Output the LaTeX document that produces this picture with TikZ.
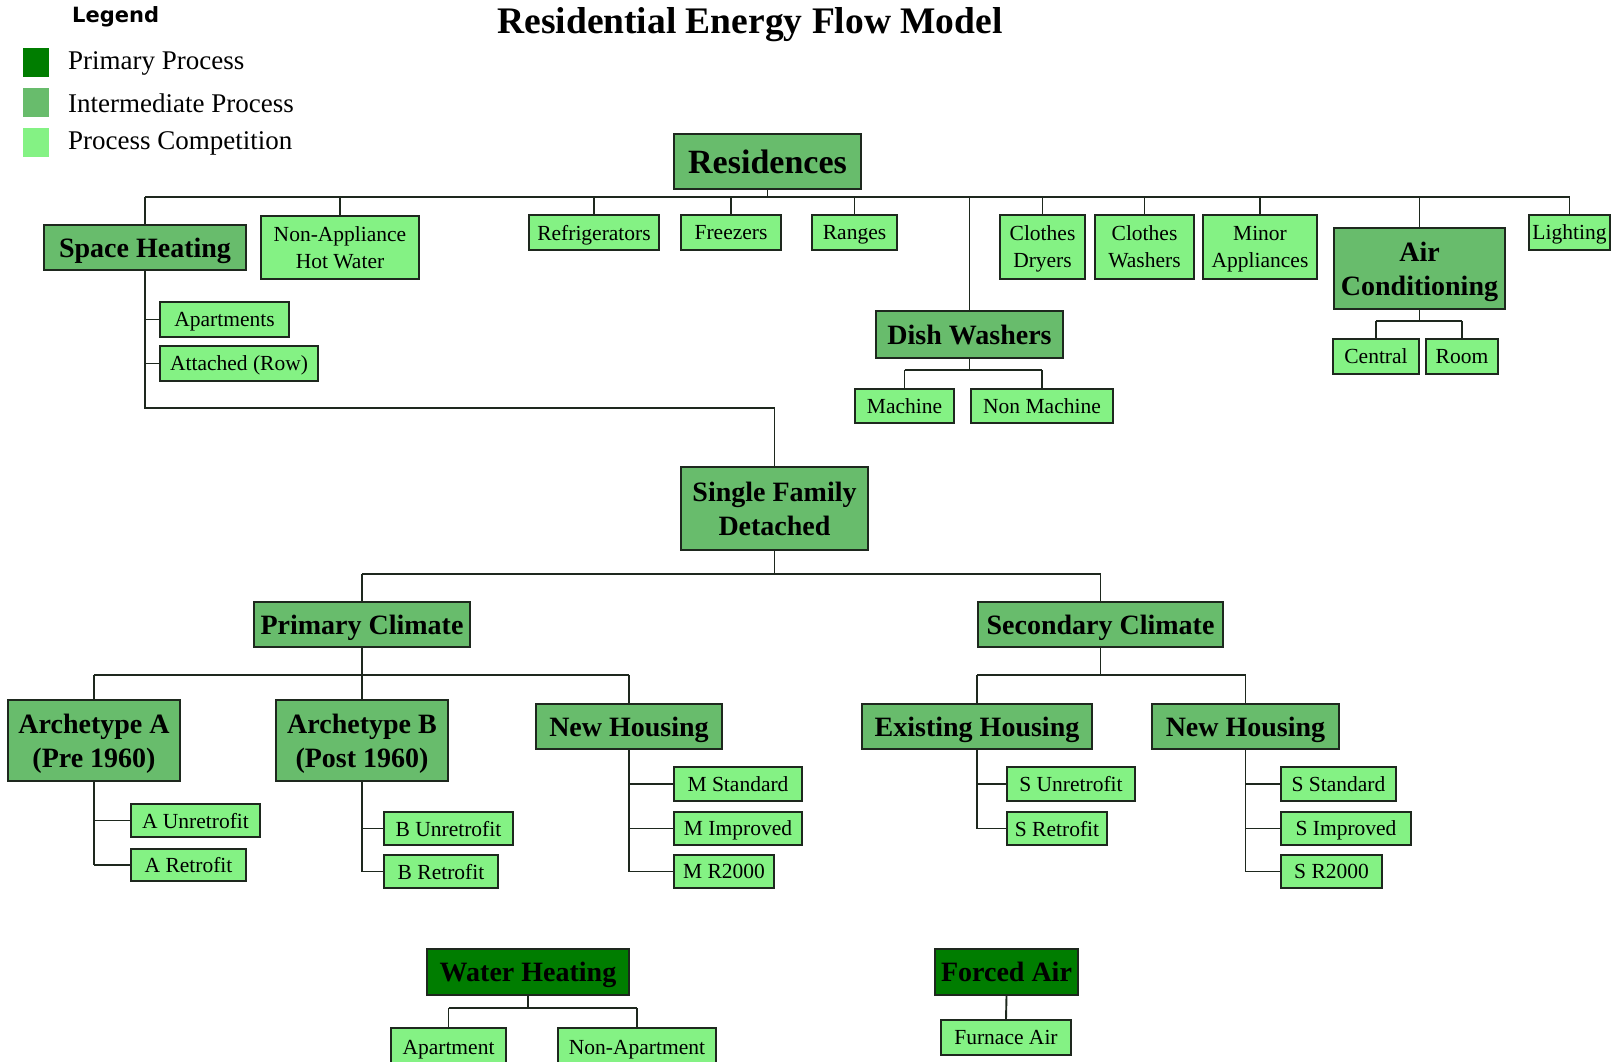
\documentclass[tikz,border=0pt]{standalone}
\usepackage{fontspec}
\setmainfont{Liberation Serif}
\newfontfamily\legfont{DejaVu Sans}
\usetikzlibrary{calc}
\definecolor{pgreen}{RGB}{0,125,0}
\definecolor{igreen}{RGB}{104,188,108}
\definecolor{cgreen}{RGB}{132,242,132}
\definecolor{edgec}{RGB}{30,40,30}
\tikzset{
 base/.style={draw=edgec, line width=1.8pt, inner sep=0pt, align=center, text=black},
 comp/.style={base, fill=cgreen, text depth=0pt, font=\fontsize{21.5}{27}\selectfont},
 inter0/.style={base, fill=igreen, font=\bfseries\fontsize{28}{34}\selectfont},
 inter/.style={inter0, text depth=0pt},
 prim/.style={base, fill=pgreen, text depth=0pt, font=\bfseries\fontsize{28}{34}\selectfont},
 conn/.style={draw=edgec, line width=1.9pt},
 legsq/.style={inner sep=0pt, minimum width=26pt, minimum height=29pt},
 legtxt/.style={anchor=west, inner sep=0pt, font=\fontsize{27}{30}\selectfont},
}
\newcommand\bx[7]{\node[#6, minimum width={(#4-#2)*1pt}, minimum height={(#5-#3)*1pt}] (#1) at ({(#2+#4)/2},{(#3+#5)/2}) {#7};}
\begin{document}
\begin{tikzpicture}[x=1pt,y=-1pt]
\useasboundingbox (0,0) rectangle (1611,1061);
\clip (0,0) rectangle (1611,1061);
\fill[white] (0,0) rectangle (1611,1061);
% title and legend
\node[font=\bfseries\fontsize{37.5}{42}\selectfont, inner sep=0pt] (title) at (750,25) {Residential Energy Flow Model};
\node[font=\legfont\bfseries\fontsize{21}{24}\selectfont, anchor=west, inner sep=0pt] (leg) at (72,17) {Legend};
\node[legsq, fill=pgreen] (sq1) at (36,62.5) {};
\node[legsq, fill=igreen] (sq2) at (36,102) {};
\node[legsq, fill=cgreen] (sq3) at (36,142.5) {};
\node[legtxt] (lt1) at (68,63) {Primary Process};
\node[legtxt] (lt2) at (68,103) {Intermediate Process};
\node[legtxt] (lt3) at (68,143) {Process Competition};
% boxes
\bx{res}{674}{134}{861}{189}{inter0, font=\bfseries\fontsize{34}{40}\selectfont}{Residences}
\bx{sh}{44}{225}{246}{270}{inter}{Space Heating}
\bx{nahw}{261}{216}{419}{279}{comp}{Non-Appliance\\Hot Water}
\bx{ref}{529}{215}{659}{250}{comp}{Refrigerators}
\bx{frz}{681}{215}{781}{250}{comp}{Freezers}
\bx{rng}{812}{215}{897}{250}{comp}{Ranges}
\bx{cd}{1000}{215}{1085}{279}{comp}{Clothes\\Dryers}
\bx{cw}{1095}{215}{1194}{279}{comp}{Clothes\\Washers}
\bx{ma}{1203}{215}{1317}{279}{comp}{Minor\\Appliances}
\bx{ac}{1334}{228}{1505}{309}{inter}{Air\\Conditioning}
\bx{lgt}{1529}{215}{1610}{250}{comp}{Lighting}
\bx{dw}{876}{311}{1063}{358}{inter0}{Dish Washers}
\bx{mach}{855}{389}{954}{423}{comp}{Machine}
\bx{nmach}{971}{389}{1113}{423}{comp}{Non Machine}
\bx{cen}{1333}{339}{1419}{374}{comp}{Central}
\bx{room}{1426}{339}{1498}{374}{comp}{Room}
\bx{apts}{160}{302}{289}{337}{comp}{Apartments}
\bx{att}{160}{346}{318}{381}{comp}{Attached (Row)}
\bx{sfd}{681}{467}{868}{550}{inter0}{Single Family\\Detached}
\bx{pc}{254}{602}{470}{647}{inter}{Primary Climate}
\bx{sc}{978}{602}{1223}{647}{inter}{Secondary Climate}
\bx{aa}{8}{700}{180}{781}{inter}{Archetype A\\(Pre 1960)}
\bx{ab}{276}{700}{448}{781}{inter}{Archetype B\\(Post 1960)}
\bx{nhm}{536}{704}{722}{749}{inter}{New Housing}
\bx{aun}{131}{804}{260}{837}{comp}{A Unretrofit}
\bx{are}{131}{849}{246}{881}{comp}{A Retrofit}
\bx{bun}{384}{812}{513}{845}{comp}{B Unretrofit}
\bx{bre}{384}{855}{498}{888}{comp}{B Retrofit}
\bx{mst}{674}{767}{802}{801}{comp}{M Standard}
\bx{mim}{674}{812}{802}{845}{comp}{M Improved}
\bx{mr}{674}{855}{774}{888}{comp}{M R2000}
\bx{eh}{862}{704}{1092}{749}{inter}{Existing Housing}
\bx{nhs}{1152}{704}{1339}{749}{inter}{New Housing}
\bx{sun}{1007}{767}{1135}{801}{comp}{S Unretrofit}
\bx{sre}{1007}{812}{1107}{845}{comp}{S Retrofit}
\bx{sst}{1281}{767}{1396}{801}{comp}{S Standard}
\bx{sim}{1281}{812}{1411}{845}{comp}{S Improved}
\bx{sr}{1281}{855}{1382}{888}{comp}{S R2000}
\bx{wh}{427}{949}{629}{995}{prim}{Water Heating}
\bx{wapt}{391}{1028}{506}{1066}{comp}{Apartment}
\bx{wnapt}{558}{1028}{716}{1066}{comp}{Non-Apartment}
\bx{fa}{935}{949}{1078}{995}{prim}{Forced Air}
\bx{fur}{941}{1020}{1071}{1055}{comp}{Furnace Air}
% bus levels
\coordinate (b1) at (0,197);
\coordinate (b2) at (0,370);
\coordinate (b3) at (0,321);
\coordinate (b4) at (0,408);
\coordinate (b5) at (0,574);
\coordinate (b6) at (0,675);
\coordinate (b7) at (0,1008);
% Residences
\draw[conn] (res.south) -- (res.south |- b1);
\draw[conn] (sh.north |- b1) -- (lgt.north |- b1);
\foreach \c in {sh,nahw,ref,frz,rng,cd,cw,ma,ac,lgt,dw}
  \draw[conn] (\c.north) -- (\c.north |- b1);
% Dish washers
\draw[conn] (dw.south) -- (dw.south |- b2);
\draw[conn] (mach.north |- b2) -- (nmach.north |- b2);
\foreach \c in {mach,nmach} \draw[conn] (\c.north) -- (\c.north |- b2);
% Air conditioning
\draw[conn] (ac.south) -- (ac.south |- b3);
\draw[conn] (cen.north |- b3) -- (room.north |- b3);
\foreach \c in {cen,room} \draw[conn] (\c.north) -- (\c.north |- b3);
% Space heating
\draw[conn] (sh.south) -- (sh.south |- b4) -| (sfd.north);
\foreach \c in {apts,att} \draw[conn] (sh.south |- \c.west) -- (\c.west);
% Single family detached
\draw[conn] (sfd.south) -- (sfd.south |- b5);
\draw[conn] (pc.north |- b5) -- (sc.north |- b5);
\foreach \c in {pc,sc} \draw[conn] (\c.north) -- (\c.north |- b5);
% Primary climate
\draw[conn] (pc.south) -- (pc.south |- b6);
\draw[conn] (aa.north |- b6) -- (nhm.north |- b6);
\foreach \c in {aa,ab,nhm} \draw[conn] (\c.north) -- (\c.north |- b6);
% Secondary climate
\draw[conn] (sc.south) -- (sc.south |- b6);
\draw[conn] (eh.north |- b6) -- (nhs.north |- b6);
\foreach \c in {eh,nhs} \draw[conn] (\c.north) -- (\c.north |- b6);
% side lists
\draw[conn] (aa.south) -- (aa.south |- are.west);
\foreach \c in {aun,are} \draw[conn] (aa.south |- \c.west) -- (\c.west);
\draw[conn] (ab.south) -- (ab.south |- bre.west);
\foreach \c in {bun,bre} \draw[conn] (ab.south |- \c.west) -- (\c.west);
\draw[conn] (nhm.south) -- (nhm.south |- mr.west);
\foreach \c in {mst,mim,mr} \draw[conn] (nhm.south |- \c.west) -- (\c.west);
\draw[conn] (eh.south) -- (eh.south |- sre.west);
\foreach \c in {sun,sre} \draw[conn] (eh.south |- \c.west) -- (\c.west);
\draw[conn] (nhs.south) -- (nhs.south |- sr.west);
\foreach \c in {sst,sim,sr} \draw[conn] (nhs.south |- \c.west) -- (\c.west);
% Water heating
\draw[conn] (wh.south) -- (wh.south |- b7);
\draw[conn] (wapt.north |- b7) -- (wnapt.north |- b7);
\foreach \c in {wapt,wnapt} \draw[conn] (\c.north) -- (\c.north |- b7);
% Forced air
\draw[conn] (fa.south) -- (fur.north);
\end{tikzpicture}
\end{document}
